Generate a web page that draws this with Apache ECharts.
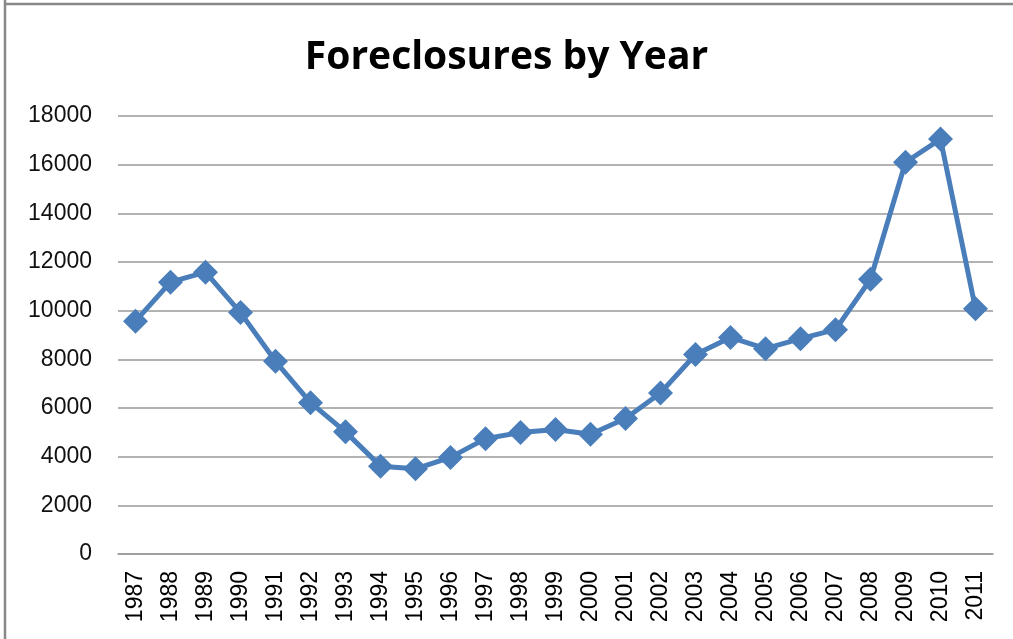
<!DOCTYPE html>
<html>
<head>
<meta charset="utf-8">
<script src="https://cdn.jsdelivr.net/npm/echarts@6/dist/echarts.min.js"></script>
<style>
  html, body { margin: 0; padding: 0; background: #fff; }
  #chart { width: 1013px; height: 639px; }
</style>
</head>
<body>
<div id="chart"></div>
<script>
// data
var years = ['1987', '1988', '1989', '1990', '1991', '1992', '1993', '1994', '1995',
    '1996', '1997', '1998', '1999', '2000', '2001', '2002', '2003', '2004', '2005',
    '2006', '2007', '2008', '2009', '2010', '2011'];
var foreclosures = [9570, 11170, 11580, 9920, 7920, 6220, 5020, 3610, 3500,
    3970, 4740, 4990, 5120, 4920, 5570, 6620, 8200, 8900, 8440,
    8850, 9220, 11290, 16100, 17050, 10080];
var yMin = 0, yMax = 18000, yStep = 2000;

var myChart = echarts.init(document.getElementById('chart'));

var option = {
    animation: false,
    backgroundColor: '#fff',
    title: {
        text: 'Foreclosures by Year',
        left: 'center',
        top: 33,
        textStyle: {
            fontFamily: 'Open Sans',
            fontWeight: 'bold',
            fontSize: 39,
            color: '#000'
        }
    },
    grid: {
        left: 118,
        right: 20,
        top: 116,
        bottom: 85
    },
    xAxis: {
        type: 'category',
        data: years,
        boundaryGap: true,
        axisLine: { lineStyle: { color: '#999', width: 1.5 } },
        axisTick: { show: false },
        axisLabel: {
            rotate: 90,
            margin: 17,
            color: '#000',
            fontFamily: 'Liberation Sans',
            fontSize: 23,
            interval: 0
        }
    },
    yAxis: {
        type: 'value',
        min: yMin,
        max: yMax,
        interval: yStep,
        axisLine: { show: false },
        axisTick: { show: false },
        axisLabel: {
            margin: 26,
            color: '#111',
            fontFamily: 'Liberation Sans',
            fontSize: 23,
            formatter: function (v) { return String(v); }
        },
        splitLine: { lineStyle: { color: '#999', width: 1.5 } }
    },
    series: [
        {
            name: 'Foreclosures',
            type: 'line',
            data: foreclosures,
            symbol: 'diamond',
            symbolSize: 25,
            lineStyle: { color: '#4a7ebb', width: 5 },
            itemStyle: { color: '#4a7ebb' }
        }
    ],
    graphic: [
        { type: 'line', shape: { x1: 5, y1: 0, x2: 5, y2: 639 }, style: { stroke: '#888', lineWidth: 2.5 } },
        { type: 'line', shape: { x1: 4, y1: 4, x2: 1013, y2: 4 }, style: { stroke: '#888', lineWidth: 2.5 } }
    ]
};

myChart.setOption(option);
</script>
</body>
</html>
